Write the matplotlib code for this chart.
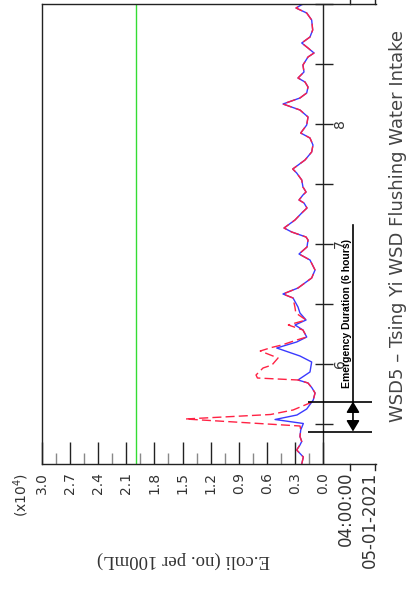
import numpy as np
import matplotlib
matplotlib.use("Agg")
import matplotlib.pyplot as plt

# ---- data (hours after 05-01-2021 04:00:00, E.coli in x10^4 no./100mL) ----
blue_t = [0.0, 1.4, 2.8, 3.8, 4.5, 5.5, 6.8, 8.1, 8.9, 9.8, 11.0, 12.8, 14.2, 15.2, 16.2,
          16.8, 18.4, 20.4, 21.6, 23.2, 24.4, 25.4, 26.8, 27.8, 28.8, 30.2, 31.4, 33.2, 34.0,
          35.2, 37.2, 38.8, 40.8, 42.0, 43.4, 44.8, 45.4, 46.4, 47.2, 48.8, 50.2, 51.2, 52.2,
          52.8, 53.8, 54.4, 55.4, 56.8, 58.2, 59.0, 60.8, 62.4, 63.8, 65.2, 66.2, 67.8, 69.4,
          70.8, 72.0, 73.2, 74.2, 75.4, 76.4, 77.2, 78.4, 79.8, 81.4, 82.2, 83.2, 84.2, 85.4,
          86.8, 88.8, 90.2, 91.2, 92.0]
blue_v = [0.227, 0.21, 0.281, 0.246, 0.227, 0.246, 0.238, 0.21, 0.512, 0.278, 0.174, 0.104,
          0.085, 0.117, 0.16, 0.267, 0.139, 0.121, 0.246, 0.494, 0.281, 0.174, 0.214, 0.299,
          0.181, 0.246, 0.267, 0.32, 0.427, 0.267, 0.121, 0.085, 0.139, 0.256, 0.171, 0.16,
          0.181, 0.334, 0.416, 0.299, 0.227, 0.171, 0.203, 0.256, 0.214, 0.181, 0.214, 0.227,
          0.281, 0.323, 0.192, 0.121, 0.107, 0.139, 0.238, 0.174, 0.16, 0.246, 0.427, 0.246,
          0.174, 0.16, 0.192, 0.267, 0.203, 0.214, 0.16, 0.096, 0.16, 0.227, 0.139, 0.11,
          0.121, 0.174, 0.288, 0.214]

red_t = [0.0, 1.4, 2.8, 3.8, 4.5, 5.5, 6.8, 7.6, 9.0, 9.9, 10.8, 12.2, 12.8, 14.2, 15.2, 16.2,
         16.8, 17.2, 17.8, 19.2, 19.8, 21.2, 22.6, 23.3, 23.8, 24.8, 25.4, 26.8, 27.8, 28.8,
         30.2, 31.4, 33.2, 34.0, 35.2, 37.2, 38.8, 40.8, 42.0, 43.4, 44.8, 45.4, 46.4, 47.2,
         48.8, 50.2, 51.2, 52.2, 52.8, 53.8, 54.4, 55.4, 56.8, 58.2, 59.0, 60.8, 62.4, 63.8,
         65.2, 66.2, 67.8, 69.4, 70.8, 72.0, 73.2, 74.2, 75.4, 76.4, 77.2, 78.4, 79.8, 81.4,
         82.2, 83.2, 84.2, 85.4, 86.8, 88.8, 90.2, 91.2, 92.0]
red_v = [0.227, 0.21, 0.281, 0.246, 0.227, 0.246, 0.238, 0.245, 1.47, 0.56, 0.32, 0.14, 0.104,
         0.085, 0.117, 0.16, 0.267, 0.70, 0.715, 0.64, 0.545, 0.48, 0.67, 0.55, 0.44, 0.28,
         0.174, 0.214, 0.37, 0.181, 0.29, 0.30, 0.32, 0.427, 0.267, 0.121, 0.085, 0.139,
         0.256, 0.171, 0.16, 0.181, 0.334, 0.416, 0.299, 0.227, 0.171, 0.203, 0.256, 0.214,
         0.181, 0.214, 0.227, 0.281, 0.323, 0.192, 0.121, 0.107, 0.139, 0.238, 0.174, 0.16,
         0.246, 0.427, 0.246, 0.174, 0.16, 0.192, 0.267, 0.203, 0.214, 0.16, 0.096, 0.16,
         0.227, 0.139, 0.11, 0.121, 0.174, 0.288, 0.214]

ecoli_ticks = [0.0, 0.3, 0.6, 0.9, 1.2, 1.5, 1.8, 2.1, 2.4, 2.7, 3.0]
ecoli_labels = ["0.0", "0.3", "0.6", "0.9", "1.2", "1.5", "1.8", "2.1", "2.4", "2.7", "3.0"]
time_ticks = [8, 20, 32, 44, 56, 68, 80, 92]
day_ticks = [20, 44, 68]
day_labels = ["6", "7", "8"]
start_time = "04:00:00"
start_date = "05-01-2021"
standard = 2.0
emergency = [6.5, 12.5]
title = "WSD5 – Tsing Yi WSD Flushing Water Intake"
ylabel = "E.coli (no. per 100mL)"

W, H = 408, 605
fig = plt.figure(figsize=(W / 100, H / 100), dpi=100)
ax = fig.add_axes([42 / W, 1 - 464 / H, (376 - 42) / W, (464 - 4) / H])
ax.set_xlim(3.0, (323 - 376) / 93.667)
ax.set_ylim(0, 92)

for s in ["left", "top", "bottom"]:
    ax.spines[s].set_color("#222222")
    ax.spines[s].set_linewidth(1.0)
ax.spines["right"].set_visible(False)

ax.set_xticks(ecoli_ticks)
ax.set_xticklabels(ecoli_labels)
ax.set_xticks([v + 0.15 for v in ecoli_ticks[:-1]], minor=True)
ax.tick_params(axis="x", which="major", direction="in", length=15.8, width=1,
               color="#222222", pad=5.5, labelsize=10, labelrotation=90, labelcolor="#333333")
ax.tick_params(axis="x", which="minor", direction="in", length=7.9, width=1, color="#888888")
ax.set_yticks([])

# time axis at E.coli = 0
ax.axvline(0, color="#222222", lw=1)
ax.hlines(time_ticks, -0.107, 0.085, color="#222222", lw=1, clip_on=False)
for t, lab in zip(day_ticks, day_labels):
    ax.text(-0.18, t, lab, rotation=90, ha="center", va="center", fontsize=10, color="#333333")

# standard line
ax.axvline(standard, color="#33dd33", lw=1)

# data
ax.plot(blue_v, blue_t, color="#3a3aff", lw=1)
ax.plot(red_v, red_t, color="#ff2244", lw=1, ls=(0, (6.5, 3)))

# start labels and separators
for xv in [-0.288, -0.555]:
    ax.plot([xv, xv], [0, -1.2], color="#222222", lw=1, clip_on=False)
    ax.plot([xv, xv], [92, 93], color="#222222", lw=1, clip_on=False)
ax.text(-0.246, -1.6, start_time, rotation=90, ha="center", va="top", fontsize=12, color="#333333")
ax.text(-0.50, -1.6, start_date, rotation=90, ha="center", va="top", fontsize=12, color="#333333")

# emergency duration
ax.hlines(emergency, -0.523, 0.16, color="black", lw=1.2, clip_on=False)
ax.annotate("", xy=(-0.32, emergency[1]), xytext=(-0.32, emergency[0]),
            arrowprops=dict(arrowstyle="<|-|>,head_length=0.5,head_width=0.3", mutation_scale=13,
                            color="black", lw=1.2, shrinkA=0, shrinkB=0), annotation_clip=False)
ax.plot([-0.32, -0.32], [emergency[1], 47.8], color="black", lw=1.2, clip_on=False)
ax.text(-0.256, 30.2, "Emergency Duration (6 hours)", rotation=90, ha="center", va="center",
        fontsize=7.5, fontweight="bold", family="Liberation Sans")

# outer labels
fig.text(183 / W, 1 - 560 / H, ylabel, rotation=180, ha="center", va="center",
         fontsize=13.5, family="Liberation Serif", color="#333333")
fig.text(21 / W, 1 - 473 / H, "(x10$^4$)", rotation=90, ha="center", va="top",
         fontsize=10, color="#333333")
fig.text(398 / W, 1 - 226 / H, title, rotation=90, ha="center", va="center",
         fontsize=13, color="#444444")

fig.savefig("out.png", dpi=100)
